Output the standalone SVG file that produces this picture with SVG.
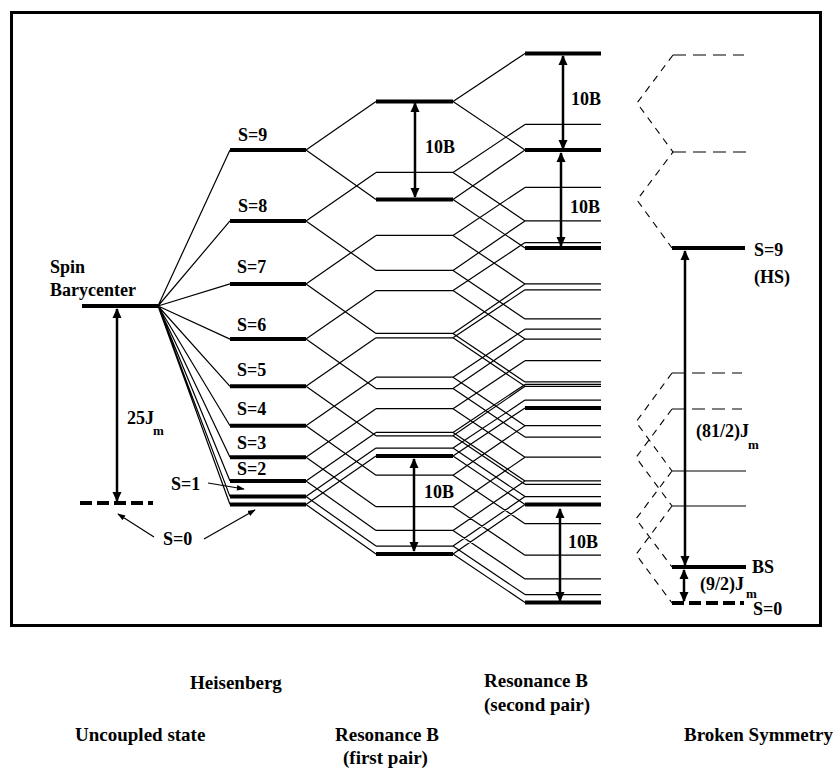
<svg xmlns="http://www.w3.org/2000/svg" width="833" height="772" viewBox="0 0 833 772">
<style>
.t{font-family:"Liberation Serif","Times New Roman",serif;font-weight:bold;font-size:18px;fill:#000}
.b{font-family:"Liberation Serif","Times New Roman",serif;font-weight:bold;font-size:19px;fill:#000}
.s{font-family:"Liberation Serif","Times New Roman",serif;font-weight:bold;font-size:13px;fill:#000}
.thick{stroke:#000;stroke-width:4;fill:none}
.thin{stroke:#000;stroke-width:1.2;fill:none}
.dthin{stroke:#000;stroke-width:1.1;fill:none;stroke-dasharray:13 7}
.zz{stroke:#000;stroke-width:1.1;fill:none;stroke-dasharray:7 6}
.dthick{stroke:#000;stroke-width:4;fill:none;stroke-dasharray:12 5}
.arr{stroke:#000;stroke-width:2.5;fill:none;marker-start:url(#ah);marker-end:url(#ah)}
.ann{stroke:#000;stroke-width:1.2;fill:none;marker-end:url(#sm)}
</style>
<defs>
<marker id="ah" viewBox="0 0 10 10" refX="9" refY="5" markerWidth="10" markerHeight="10" markerUnits="userSpaceOnUse" orient="auto-start-reverse"><path d="M0,0.5 L10,5 L0,9.5 z" fill="#000"/></marker>
<marker id="sm" viewBox="0 0 10 10" refX="9" refY="5" markerWidth="8" markerHeight="8" markerUnits="userSpaceOnUse" orient="auto"><path d="M0,1.5 L10,5 L0,8.5 z" fill="#000"/></marker>
</defs>
<rect width="833" height="772" fill="#fff"/>
<rect x="11.5" y="12.5" width="809" height="613" fill="none" stroke="#000" stroke-width="3"/>

<g id="connectors">
<path class="thin" d="M158,306 L230,150 M158,306 L230,220.9 M158,306 L230,283.9 M158,306 L230,339.1 M158,306 L230,386.3 M158,306 L230,425.7 M158,306 L230,457.2 M158,306 L230,480.9 M158,306 L230,496.6 M158,306 L230,504.5"/>
<path class="thin" d="M306,150 L376,101.5 M306,150 L376,199.5 M306,220.9 L376,172.4 M306,220.9 L376,270.4 M306,283.9 L376,235.4 M306,283.9 L376,333.4 M306,339.1 L376,290.6 M306,339.1 L376,388.6 M306,386.3 L376,337.8 M306,386.3 L376,435.8 M306,425.7 L376,377.2 M306,425.7 L376,475.2 M306,457.2 L376,408.7 M306,457.2 L376,506.7 M306,480.9 L376,432.4 M306,480.9 L376,530.4 M306,496.6 L376,448.1 M306,496.6 L376,546.1 M306,504.5 L376,456 M306,504.5 L376,554"/>
<path class="thin" d="M453,101.5 L525,53.5 M453,101.5 L525,150 M453,199.5 L525,150 M453,199.5 L525,248
M453,172.4 L525,124.4 M453,172.4 L525,220.9 M453,270.4 L525,220.9 M453,270.4 L525,318.9
M453,235.4 L525,187.4 M453,235.4 L525,283.9 M453,333.4 L525,283.9 M453,333.4 L525,381.9
M453,290.6 L525,242.6 M453,290.6 L525,339.1 M453,388.6 L525,339.1 M453,388.6 L525,437.1
M453,337.8 L525,289.8 M453,337.8 L525,386.3 M453,435.8 L525,386.3 M453,435.8 L525,484.3
M453,377.2 L525,329.2 M453,377.2 L525,425.7 M453,475.2 L525,425.7 M453,475.2 L525,523.7
M453,408.7 L525,360.7 M453,408.7 L525,457.2 M453,506.7 L525,457.2 M453,506.7 L525,555.2
M453,432.4 L525,384.4 M453,432.4 L525,480.9 M453,530.4 L525,480.9 M453,530.4 L525,578.9
M453,448.1 L525,400.1 M453,448.1 L525,496.6 M453,546.1 L525,496.6 M453,546.1 L525,594.6
M453,456 L525,408 M453,456 L525,504.5 M453,554 L525,504.5 M453,554 L525,602.5"/>
<path class="zz" d="M673,55 L637,103 L673,152 L637,200 L672,248"/>
<path class="zz" d="M672,373 L636,422 L672,471 M672,409 L636,457.5 L672,506 M672,471 L636,519 L672,567 M672,506 L636,554.5 L672,603"/>
<path class="arr" d="M117,309 V501"/>
<path class="arr" d="M415,103 V197"/>
<path class="arr" d="M563,56 V149"/>
<path class="arr" d="M561,153 V246"/>
<path class="arr" d="M414,459 V551"/>
<path class="arr" d="M560,509 V601"/>
<path class="arr" d="M685,251 V565"/>
<path class="arr" d="M684,570 V601"/>
<path class="ann" d="M208,483 L244,489"/>
<path class="ann" d="M154,537 L118,514"/>
<path class="ann" d="M204,539 L255,510"/>
</g>

<g id="uncoupled">
<path class="thick" d="M82,306 H158"/>
<path class="dthick" d="M80,503 H153"/>
<text class="t" x="50" y="273">Spin</text>
<text class="t" x="50" y="296">Barycenter</text>
<text class="t" x="127" y="424">25J</text><text class="s" x="153" y="435">m</text>
</g>

<g id="heisenberg">
<path class="thick" d="M230,150 H306 M230,220.9 H306 M230,283.9 H306 M230,339.1 H306 M230,386.3 H306 M230,425.7 H306 M230,457.2 H306 M230,480.9 H306 M230,496.6 H306 M230,504.5 H306"/>
<text class="t" x="238" y="141">S=9</text>
<text class="t" x="238" y="212">S=8</text>
<text class="t" x="237" y="273">S=7</text>
<text class="t" x="237" y="331">S=6</text>
<text class="t" x="237" y="376">S=5</text>
<text class="t" x="237" y="415">S=4</text>
<text class="t" x="237" y="449">S=3</text>
<text class="t" x="237" y="475">S=2</text>
<text class="t" x="171" y="490">S=1</text>
<text class="t" x="163" y="545">S=0</text>
</g>

<g id="first-pair">
<path class="thick" d="M376,101.5 H453 M376,199.5 H453 M376,456 H453 M376,554 H453"/>
<path class="thin" d="M376,172.4 H453 M376,270.4 H453 M376,235.4 H453 M376,333.4 H453 M376,290.6 H453 M376,388.6 H453 M376,337.8 H453 M376,435.8 H453 M376,377.2 H453 M376,475.2 H453 M376,408.7 H453 M376,506.7 H453 M376,432.4 H453 M376,530.4 H453 M376,448.1 H453 M376,546.1 H453"/>
<text class="t" x="425" y="153">10B</text>
<text class="t" x="424" y="498">10B</text>
</g>

<g id="second-pair">
<path class="thick" d="M525,53.5 H601 M525,150 H601 M525,248 H601 M525,408 H601 M525,504.5 H601 M525,602.5 H601"/>
<path class="thin" d="M525,124.4 H601 M525,220.9 H601 M525,318.9 H601 M525,187.4 H601 M525,283.9 H601 M525,381.9 H601 M525,242.6 H601 M525,339.1 H601 M525,437.1 H601 M525,289.8 H601 M525,386.3 H601 M525,484.3 H601 M525,329.2 H601 M525,425.7 H601 M525,523.7 H601 M525,360.7 H601 M525,457.2 H601 M525,555.2 H601 M525,384.4 H601 M525,480.9 H601 M525,578.9 H601 M525,400.1 H601 M525,496.6 H601 M525,594.6 H601"/>
<text class="t" x="571" y="105">10B</text>
<text class="t" x="570" y="213">10B</text>
<text class="t" x="568" y="548">10B</text>
</g>

<g id="broken-symmetry">
<path class="dthin" d="M673,55 H744 M673,152 H747 M672,373 H742 M672,409 H742"/>
<path class="thin" d="M672,471 H746 M672,506 H746"/>
<path class="thick" d="M672,248 H745 M672,567 H746"/>
<path class="dthick" d="M672,603 H744"/>
<text class="t" x="754" y="256">S=9</text>
<text class="t" x="754" y="283">(HS)</text>
<text class="t" x="696" y="437">(81/2)J</text><text class="s" x="748" y="449">m</text>
<text class="t" x="752" y="573">BS</text>
<text class="t" x="700" y="590">(9/2)J</text><text class="s" x="746" y="598">m</text>
<text class="t" x="753" y="615">S=0</text>
</g>

<g id="column-labels">
<text class="b" x="190" y="689">Heisenberg</text>
<text class="b" x="484" y="687">Resonance B</text>
<text class="b" x="484" y="711">(second pair)</text>
<text class="b" x="75" y="741">Uncoupled state</text>
<text class="b" x="335" y="741">Resonance B</text>
<text class="b" x="343" y="764">(first pair)</text>
<text class="b" x="684" y="741">Broken Symmetry</text>
</g>
</svg>
